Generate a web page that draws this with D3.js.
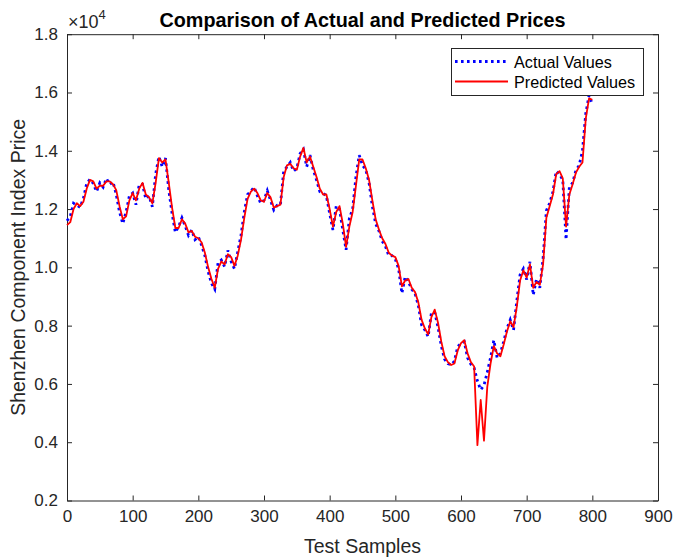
<!DOCTYPE html>
<html>
<head>
<meta charset="utf-8">
<script src="https://cdn.jsdelivr.net/npm/d3@7"></script>
<style>
  body { margin: 0; background: #fff; }
  svg { font-family: "Liberation Sans", Arial, Helvetica, sans-serif; }
</style>
</head>
<body>
<script>
// sample index every 5 test samples, 0..800
let step = 5;

// actual values
let actual = [
  11600, 11750, 12200, 12130, 12060, 12370, 12880, 13020, 12880, 12600,
  12900, 12750, 13050, 12850, 12930, 12500, 11900, 11500, 11900, 12450,
  12550, 12150, 12850, 12850, 12350, 12450, 12080, 13200, 13800, 13450,
  13750, 12650, 11850, 11200, 11400, 11700, 11420, 11100, 11280, 10950,
  11050, 10760, 10400, 9850, 9450, 9250, 10150, 10250, 10020, 10580,
  10200, 9950, 10530, 11100, 11900, 12500, 12620, 12750, 12450, 12200,
  12300, 12630, 12300, 11970, 12130, 12150, 13300, 13450, 13600, 13300,
  13400, 13900, 14050, 13450, 13850, 13350, 13000, 12600, 12550, 12450,
  11850, 11280, 12100, 12000, 11280, 10600, 11680, 12000, 13100, 13850,
  13500, 13350, 12900, 12100, 11500, 11250, 10900, 10720, 10400, 10400,
  10280, 9950, 9110, 9680, 9500, 9250, 9100, 8700, 8020, 7850,
  7620, 8450, 8450, 7950, 7300, 6850, 6700, 6650, 6780, 7280,
  7390, 7450, 6900, 6680, 6550, 6100, 5800, 5950, 6400, 6900,
  7500, 6900, 7050, 7450, 7900, 8200, 7850, 8850, 9750, 9950,
  9580, 10190, 9050, 9600, 9300, 10300, 11950, 12200, 12590, 13300,
  13200, 13000, 10950, 12750, 12900, 13330, 13500, 14000, 15280, 15900,
  15600
];

// predicted values
let predicted = [
  11450, 11550, 12000, 12200, 12100, 12250, 12700, 13000, 12950, 12700,
  12800, 12800, 12950, 12950, 12850, 12650, 12100, 11650, 11750, 12300,
  12550, 12300, 12700, 12900, 12500, 12400, 12200, 12900, 13750, 13600,
  13700, 12900, 12050, 11350, 11350, 11650, 11500, 11200, 11250, 11050,
  11000, 10850, 10500, 10000, 9600, 9300, 9950, 10200, 10100, 10450,
  10350, 10050, 10400, 10950, 11700, 12350, 12600, 12700, 12550, 12300,
  12250, 12550, 12400, 12050, 12100, 12150, 13100, 13500, 13550, 13400,
  13350, 13800, 14100, 13600, 13800, 13450, 13100, 12700, 12500, 12500,
  12000, 11400, 11900, 12100, 11500, 10700, 11400, 11900, 12800, 13700,
  13700, 13400, 13000, 12300, 11650, 11300, 11000, 10800, 10500, 10400,
  10350, 10050, 9350, 9550, 9600, 9300, 9150, 8800, 8200, 7900,
  7700, 8300, 8550, 8100, 7450, 6950, 6750, 6650, 6700, 7150,
  7400, 7500, 7050, 6750, 6600, 3900, 5450, 4050, 5900, 6700,
  7300, 7050, 6950, 7350, 7800, 8150, 7950, 8650, 9550, 9900,
  9650, 10100, 9300, 9500, 9400, 10100, 11700, 12100, 12500, 13200,
  13300, 13050, 11400, 12500, 12850, 13250, 13450, 13600, 15100, 15800,
  15750
];

let xTicks = [0, 100, 200, 300, 400, 500, 600, 700, 800, 900];
let yTicks = [2000, 4000, 6000, 8000, 10000, 12000, 14000, 16000, 18000];
let seriesNames = ["Actual Values", "Predicted Values"];

let box = { left: 67, right: 658, top: 34.2, bottom: 500.5 };
let ink = "#262626";

let svg = d3.select("body").append("svg")
    .attr("width", 675)
    .attr("height", 559);

let x = d3.scaleLinear().domain([0, 900]).range([box.left, box.right]);
let y = d3.scaleLinear().domain([2000, 18000]).range([box.bottom, box.top]);

// axes, ticks pointing inward on all four sides
let axisStyle = function(g) {
    g.select(".domain").attr("stroke", ink).attr("stroke-width", 1);
    g.selectAll(".tick line").attr("stroke", ink).attr("stroke-width", 1);
    g.selectAll(".tick text").attr("fill", ink).style("font-size", "17px");
};

svg.append("g")
    .attr("transform", "translate(0," + box.bottom + ")")
    .call(d3.axisBottom(x).tickValues(xTicks).tickSize(-5).tickSizeOuter(0).tickPadding(9))
    .call(axisStyle);

svg.append("g")
    .attr("transform", "translate(0," + box.top + ")")
    .call(d3.axisTop(x).tickValues(xTicks).tickSize(-5).tickSizeOuter(0).tickFormat(""))
    .call(axisStyle);

svg.append("g")
    .attr("transform", "translate(" + box.left + ",0)")
    .call(d3.axisLeft(y).tickValues(yTicks).tickSize(-5).tickSizeOuter(0).tickPadding(9)
        .tickFormat(d => (d / 10000).toFixed(1)))
    .call(axisStyle);

svg.append("g")
    .attr("transform", "translate(" + box.right + ",0)")
    .call(d3.axisRight(y).tickValues(yTicks).tickSize(-5).tickSizeOuter(0).tickFormat(""))
    .call(axisStyle);

svg.selectAll(".tick text").attr("font-family", null);

// lines
let line = d3.line()
    .x((d, i) => x(i * step))
    .y(d => y(d));

svg.append("path")
    .datum(actual)
    .attr("fill", "none")
    .attr("stroke", "#0000ff")
    .attr("stroke-width", 2.8)
    .attr("stroke-dasharray", "2.6,3.4")
    .attr("d", line);

svg.append("path")
    .datum(predicted)
    .attr("fill", "none")
    .attr("stroke", "#ff0000")
    .attr("stroke-width", 1.8)
    .attr("stroke-linejoin", "round")
    .attr("d", line);

// exponent label
let expo = svg.append("text")
    .attr("x", 68)
    .attr("y", 28)
    .attr("fill", ink)
    .style("font-size", "18px");
expo.append("tspan").text("\u00d710");
expo.append("tspan").attr("dy", -9).style("font-size", "13px").text("4");

// title and axis labels
svg.append("text")
    .attr("x", (box.left + box.right) / 2)
    .attr("y", 27)
    .attr("text-anchor", "middle")
    .style("font-size", "19.8px")
    .style("font-weight", "bold")
    .attr("fill", "#000")
    .text("Comparison of Actual and Predicted Prices");

svg.append("text")
    .attr("x", (box.left + box.right) / 2)
    .attr("y", 553)
    .attr("text-anchor", "middle")
    .style("font-size", "19.5px")
    .attr("fill", ink)
    .text("Test Samples");

svg.append("text")
    .attr("transform", "translate(25," + (box.top + box.bottom) / 2 + ") rotate(-90)")
    .attr("text-anchor", "middle")
    .style("font-size", "19.5px")
    .attr("fill", ink)
    .text("Shenzhen Component Index Price");

// legend
let legend = svg.append("g");
legend.append("rect")
    .attr("x", 451.5)
    .attr("y", 48.5)
    .attr("width", 192)
    .attr("height", 47)
    .attr("fill", "#fff")
    .attr("stroke", ink)
    .attr("stroke-width", 1);

let legendStyle = [
    { color: "#0000ff", width: 2.8, dash: "2.6,3.4" },
    { color: "#ff0000", width: 1.8, dash: null }
];

seriesNames.forEach(function(name, i) {
    let ly = 61.5 + i * 20;
    legend.append("line")
        .attr("x1", 455)
        .attr("x2", 508)
        .attr("y1", ly)
        .attr("y2", ly)
        .attr("stroke", legendStyle[i].color)
        .attr("stroke-width", legendStyle[i].width)
        .attr("stroke-dasharray", legendStyle[i].dash);
    legend.append("text")
        .attr("x", 514)
        .attr("y", ly + 6.5)
        .style("font-size", "16.2px")
        .attr("fill", "#000")
        .text(name);
});
</script>
</body>
</html>
